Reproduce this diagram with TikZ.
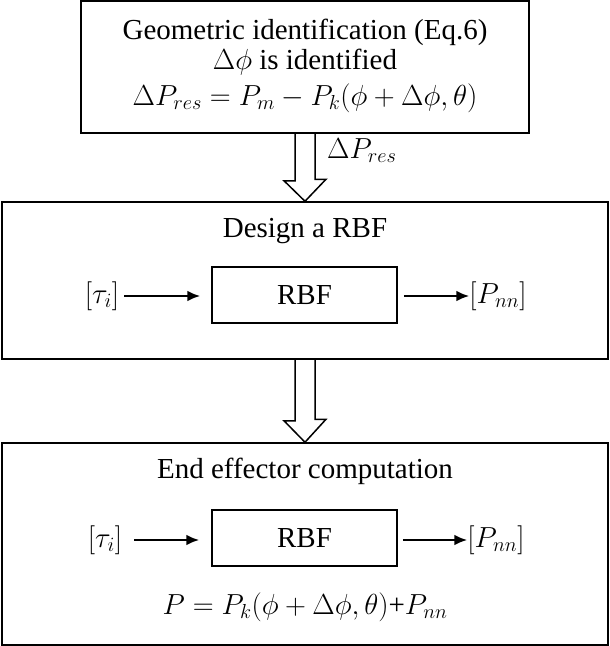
\RequirePackage{fix-cm}
\documentclass[tikz,border=0pt]{standalone}
\usepackage{fontspec}
\setmainfont{Liberation Serif}
\usetikzlibrary{arrows.meta}

\begin{document}
\begin{tikzpicture}[x=1pt, y=-1pt,
    every node/.style={font=\fontsize{29}{34}\selectfont},
    blockbox/.style={draw, line width=1.5pt, inner sep=0pt},
    termtext/.style={inner sep=0pt},
    flow/.style={-{Latex[length=13pt,width=11pt]}, line width=2.5pt},
    hollow/.style={line width=1.5pt, line join=miter}]
      \useasboundingbox (0,0) rectangle (610,646);
      %
      \node[blockbox, minimum width=448pt, minimum height=132pt] (geo) at (305,67) {};      % top box
      \node[termtext, anchor=base] (geotitle) at (305,39) {Geometric identification (Eq.6)};
      \node[termtext, anchor=base] (geoline) at (305,69) {$\Delta\phi$ is identified};
      \node[termtext, anchor=base] (geoeq) at (305,105) {$\Delta P_{res} = P_m - P_k(\phi + \Delta\phi, \theta)$};
      %
      \node[blockbox, minimum width=606pt, minimum height=157pt] (design) at (305,280.5) {}; % middle box
      \node[termtext, anchor=base] (designtitle) at (305,237) {Design a RBF};
      \node[blockbox, minimum width=185pt, minimum height=56pt] (rbfa) at (304.5,295) {RBF};
      \node[termtext] (taua) at (102,296) {$[\tau_i]$};
      \node[termtext] (pnna) at (498,296) {$[P_{nn}]$};
      %%
      \draw[flow, shorten <=5pt, shorten >=11pt] (taua.east) -- (taua.east -| rbfa.west);
      \draw[flow, shorten <=6pt] (rbfa.east |- pnna) -- (pnna.west);
      %
      \node[blockbox, minimum width=606pt, minimum height=202pt] (endeff) at (305,544) {}; % bottom box
      \node[termtext, anchor=base] (endtitle) at (305,478) {End effector computation};
      \node[blockbox, minimum width=185pt, minimum height=56pt] (rbfb) at (304.5,538) {RBF};
      \node[termtext] (taub) at (105,540) {$[\tau_i]$};
      \node[termtext] (pnnb) at (496,540) {$[P_{nn}]$};
      \node[termtext, anchor=base] (endeq) at (305,614) {$P = P_k(\phi + \Delta\phi, \theta)$+$P_{nn}$};
      %%
      \draw[flow, shorten <=12pt, shorten >=12pt] (taub.east) -- (taub.east -| rbfb.west);
      \draw[flow, shorten <=5pt] (rbfb.east |- pnnb) -- (pnnb.west);
      %
      \draw[hollow] ([xshift=-10pt]geo.south) -- ++(0,47) -- ++(-11,0) -- (design.north)
                    -- ++(21,-22) -- ++(-11,0) -- ++(0,-47);                               % first big arrow
      \node[termtext, anchor=base west] (dres) at (327,158) {$\Delta P_{res}$};
      %
      \draw[hollow] ([xshift=-10pt]design.south) -- ++(0,61) -- ++(-11,0) -- (endeff.north)
                    -- ++(21,-23) -- ++(-11,0) -- ++(0,-61);                               % second big arrow
      %
    \end{tikzpicture}
\end{document}
